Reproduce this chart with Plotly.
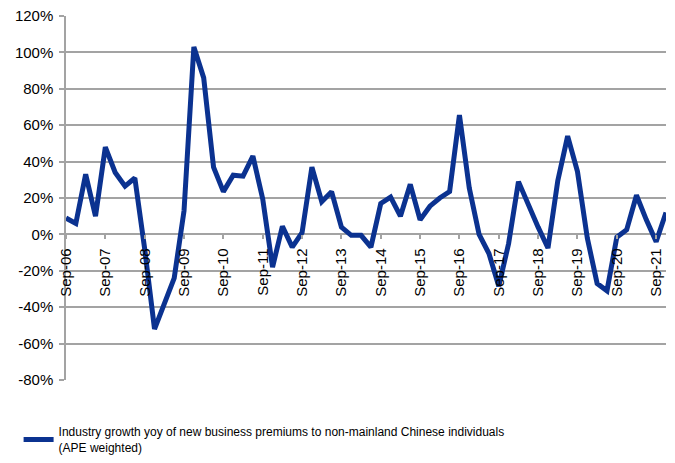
import plotly.graph_objects as go

# Quarter-end labels, Sep-06 .. Dec-21
months = ["Sep", "Dec", "Mar", "Jun"]
quarters = []
for i in range(62):
    m = months[i % 4]
    yr = 6 + (i + 1) // 4 if m not in ("Sep", "Dec") else 6 + i // 4
    quarters.append(f"{m}-{yr:02d}")

# Industry growth yoy (%), APE weighted
growth = [9, 6, 33, 10, 48, 34, 26.5, 31, -8, -52,
          -38, -24, 13, 103, 86, 37, 23.5, 32.5, 32, 43,
          19.5, -18, 4.5, -7, 1, 37, 18, 23.5, 4, -0.5,
          -0.5, -7, 17, 20.5, 10, 27.5, 8, 15.5, 20, 23.5,
          65.5, 25.5, 0, -10.5, -28.5, -5, 29, 16, 4, -7.5,
          29.5, 54, 34.5, -2, -27, -31, -1.5, 2.5, 21.5, 8,
          -4, 12]

y_ticks = [-80, -60, -40, -20, 0, 20, 40, 60, 80, 100, 120]
y_tick_text = [f"{v}%" for v in y_ticks]
x_ticks = [q for q in quarters if q.startswith("Sep")]

series_name = ("Industry growth yoy of new business premiums to non-mainland Chinese individuals"
               "<br>(APE weighted)")

GRID = "#a3a3a3"
LINE = "#0b3290"

fig = go.Figure()
fig.add_trace(go.Scatter(
    x=quarters, y=growth, mode="lines", name=series_name,
    line=dict(color=LINE, width=5),
))

fig.update_layout(
    width=675, height=463,
    margin=dict(l=66, r=9, t=16, b=83, autoexpand=False),
    paper_bgcolor="white", plot_bgcolor="white",
    font=dict(family="Liberation Sans, Arial, sans-serif", size=15, color="black"),
    showlegend=True,
    legend=dict(
        x=-0.079, y=-0.103, xanchor="left", yanchor="top",
        font=dict(family="Liberation Sans, Arial", size=12),
        bgcolor="rgba(0,0,0,0)", itemwidth=30,
    ),
    xaxis=dict(
        type="category", range=[0, 61],
        tickmode="array", tickvals=x_ticks, ticktext=x_ticks,
        tickangle=-90, anchor="free", position=0.4,
        showgrid=False, showline=False, zeroline=False,
        ticks="outside", ticklen=4, tickcolor=GRID, tickwidth=1.5,
        ticklabelstandoff=3,
    ),
    yaxis=dict(
        range=[-80, 120], tickmode="array", tickvals=y_ticks, ticktext=y_tick_text,
        showgrid=True, gridcolor=GRID, gridwidth=1.5,
        zeroline=True, zerolinecolor=GRID, zerolinewidth=1.5,
        showline=True, linecolor=GRID, linewidth=1.5,
        ticks="outside", ticklen=5, tickcolor=GRID, tickwidth=1.5,
        ticklabelstandoff=3,
    ),
)

fig.write_html("out.html")
